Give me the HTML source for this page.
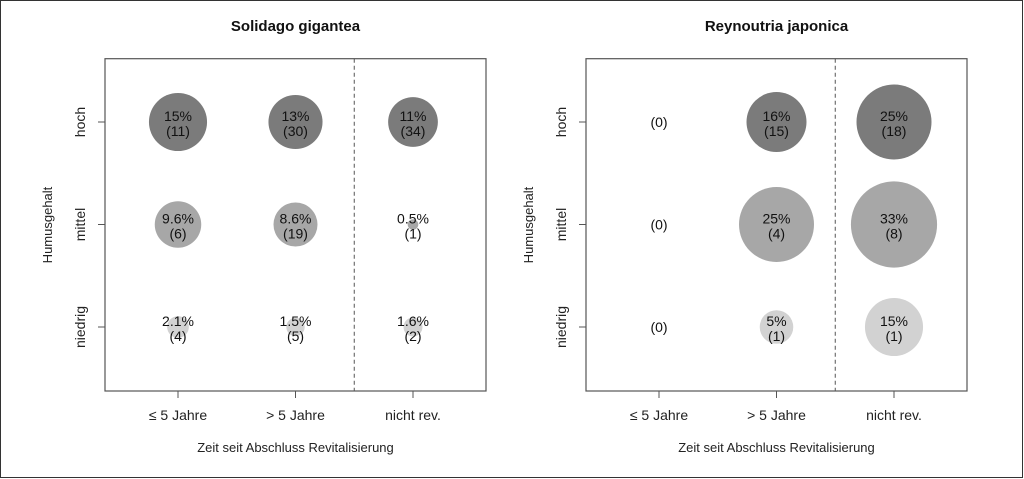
<!DOCTYPE html>
<html><head><meta charset="utf-8"><style>
body{margin:0;background:#fff}
svg{display:block;font-family:"Liberation Sans",Arial,sans-serif}
</style></head><body>
<svg id="chart" width="1024" height="479" viewBox="0 0 1024 479">
<rect x="0.5" y="0.5" width="1022" height="477" fill="#fff" stroke="#333"/>
</svg>
<script>
const categories = ["≤ 5 Jahre", "> 5 Jahre", "nicht rev."];
const rows = ["hoch", "mittel", "niedrig"];
const titles = ["Solidago gigantea", "Reynoutria japonica"];
const pctSolidago = [[15, 13, 11], [9.6, 8.6, 0.5], [2.1, 1.5, 1.6]];
const nSolidago = [[11, 30, 34], [6, 19, 1], [4, 5, 2]];
const pctReynoutria = [[0, 16, 25], [0, 25, 33], [0, 5, 15]];
const nReynoutria = [[0, 15, 18], [0, 4, 8], [0, 1, 1]];
const pctLabelsReynoutria = [["", "16%", "25%"], ["", "25%", "33%"], ["", "5%", "15%"]];
const pctLabelsSolidago = [["15%", "13%", "11%"], ["9.6%", "8.6%", "0.5%"], ["2.1%", "1.5%", "1.6%"]];

const NS = "http://www.w3.org/2000/svg";
const svg = document.getElementById("chart");
const fills = ["#7b7b7b", "#a7a7a7", "#d2d2d2"];
function mk(tag, attrs, parent) {
  const e = document.createElementNS(NS, tag);
  for (const k in attrs) e.setAttribute(k, attrs[k]);
  (parent || svg).appendChild(e);
  return e;
}
function panel(px, title, pct, ns, labels, key) {
  const L = px, R = px + 381, T = 58.7, B = 391;
  const xs = i => L + 73 + i * 117.5;
  const ys = j => 122 + j * 102.5;
  const rs = p => 7.5 * Math.sqrt(p);
  const g = mk("g", {});
  
  
  const t = mk("text", {x: (L + R) / 2, y: 31, "text-anchor": "middle", "font-size": 15, "font-weight": "bold", fill: "#111"}, g);
  t.textContent = title;
  
  
  const box = mk("rect", {x: L, y: T, width: R - L, height: B - T, fill: "none", stroke: "#555", "stroke-width": 1.2}, g);
  
  
  const dx = (xs(1) + xs(2)) / 2;
  const dl = mk("line", {x1: dx, y1: T, x2: dx, y2: B, stroke: "#555", "stroke-dasharray": "4,3"}, g);
  
  
  categories.forEach((c, i) => {
    const tk = mk("line", {x1: xs(i), y1: B, x2: xs(i), y2: B + 7, stroke: "#555"}, g);
    
    
    const tl = mk("text", {x: xs(i), y: 420, "text-anchor": "middle", "font-size": 14, fill: "#222"}, g);
    tl.textContent = c;
    
    
  });
  rows.forEach((r, j) => {
    const tk = mk("line", {x1: L - 7, y1: ys(j), x2: L, y2: ys(j), stroke: "#555"}, g);
    
    
    const tl = mk("text", {x: L - 20, y: ys(j), "text-anchor": "middle", "font-size": 14, fill: "#222", transform: `rotate(-90 ${L - 20} ${ys(j)})`, dy: 0}, g);
    tl.textContent = r;
    
    
  });
  const xt = mk("text", {x: (L + R) / 2, y: 452, "text-anchor": "middle", "font-size": 13, fill: "#222"}, g);
  xt.textContent = "Zeit seit Abschluss Revitalisierung";
  
  
  const yt = mk("text", {x: L - 53, y: 225, "text-anchor": "middle", "font-size": 13, fill: "#222", transform: `rotate(-90 ${L - 53} 225)`}, g);
  yt.textContent = "Humusgehalt";
  
  
  rows.forEach((r, j) => categories.forEach((c, i) => {
    const p = pct[j][i];
    if (p > 0) {
      const b = mk("circle", {cx: xs(i), cy: ys(j), r: rs(p), fill: fills[j]}, g);
      
      
    }
    const lab = labels[j][i];
    if (lab) {
      const a = mk("text", {x: xs(i), y: ys(j) - 1, "text-anchor": "middle", "font-size": 14, fill: "#111"}, g);
      a.textContent = lab;
      
      
      const b2 = mk("text", {x: xs(i), y: ys(j) + 14, "text-anchor": "middle", "font-size": 14, fill: "#111"}, g);
      b2.textContent = "(" + ns[j][i] + ")";
      
      
    } else {
      const b2 = mk("text", {x: xs(i), y: ys(j) + 5, "text-anchor": "middle", "font-size": 14, fill: "#111"}, g);
      b2.textContent = "(" + ns[j][i] + ")";
      
      
    }
  }));
}
panel(105, titles[0], pctSolidago, nSolidago, pctLabelsSolidago, "solidago");
panel(586, titles[1], pctReynoutria, nReynoutria, pctLabelsReynoutria, "reynoutria");
</script>
</body></html>
